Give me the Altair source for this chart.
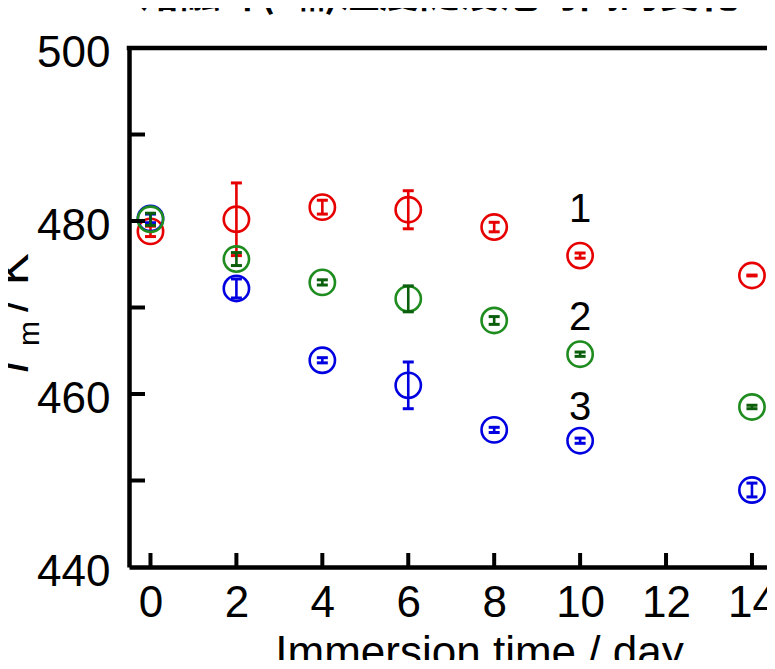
import altair as alt
import pandas as pd

# ---- data ----
days = [0, 2, 4, 6, 8, 10, 14]
tm_1 = [478.8, 480.2, 481.6, 481.3, 479.3, 476.0, 473.7]
err_1 = [0.6, 4.2, 0.8, 2.2, 0.55, 0.3, 0.05]
tm_2 = [480.2, 475.6, 472.9, 471.0, 468.5, 464.6, 458.5]
err_2 = [0.7, 0.75, 0.3, 1.5, 0.45, 0.25, 0.2]
tm_3 = [480.3, 472.2, 463.9, 461.0, 455.85, 454.6, 448.9]
err_3 = [0.5, 1.1, 0.3, 2.7, 0.3, 0.3, 0.8]

series_names = ["1", "2", "3"]
circle_colors = ["#e60000", "#1e8c1e", "#0000e0"]
bar_colors = ["#e60000", "#0b5e0b", "#0000e0"]

label_x = [10, 10, 10]
label_y = [481.3, 468.8, 458.4]
label_text = ["1", "2", "3"]

x_tick_values = [0, 2, 4, 6, 8, 10, 12, 14]
y_tick_values = [450, 460, 470, 480, 490]
y_label_values = [440, 460, 480, 500]

title_text = "熔融峰(Tₘ)温度随浸泡时间的变化"
x_title = "Immersion time / day"

W, H = 638, 519
FONT = "Liberation Sans"

xscale = alt.Scale(domain=[-0.5, 14.35], nice=False, zero=False)
yscale = alt.Scale(domain=[440, 500], nice=False, zero=False)

x_axis = alt.Axis(values=x_tick_values, labelFontSize=44, labelFont=FONT, labelColor="black",
                  labelPadding=14, labelFlush=False, labelOverlap=False,
                  ticks=False, tickSize=0, grid=False, domainWidth=4.5, domainColor="black",
                  title=x_title, titleFontSize=44, titleFont=FONT, titleFontWeight="normal",
                  titleColor="black", titleX=350, titleY=99, titleAlign="center",
                  titleBaseline="alphabetic")
y_axis = alt.Axis(values=y_label_values, labelFontSize=44, labelFont=FONT, labelColor="black",
                  labelPadding=19, labelOffset=5, labelFlush=False, labelOverlap=False,
                  ticks=False, tickSize=0, grid=False, domainWidth=4.5, domainColor="black",
                  title="")


def X(field):
    return alt.X(field, scale=xscale, axis=x_axis)


def Y(field):
    return alt.Y(field, scale=yscale, axis=y_axis)


layers = []
all_series = [(tm_1, err_1), (tm_2, err_2), (tm_3, err_3)]
order = [0, 2, 1]  # red, blue, green drawn in this order
for i in order:
    tm, err = all_series[i]
    df = pd.DataFrame({
        "day": days,
        "tm": tm,
        "lo": [t - e for t, e in zip(tm, err)],
        "hi": [t + e for t, e in zip(tm, err)],
        "series": series_names[i],
    })
    base = alt.Chart(df)
    pts = base.mark_point(shape="circle", filled=False, size=640, strokeWidth=2.6,
                          opacity=1, color=circle_colors[i]).encode(x=X("day:Q"), y=Y("tm:Q"))
    bar = base.mark_rule(strokeWidth=2.6, color=bar_colors[i]).encode(
        x=X("day:Q"), y=Y("lo:Q"), y2="hi:Q")
    cap_lo = base.mark_tick(orient="horizontal", size=11, thickness=3,
                            color=bar_colors[i], opacity=1).encode(x=X("day:Q"), y=Y("lo:Q"))
    cap_hi = base.mark_tick(orient="horizontal", size=11, thickness=3,
                            color=bar_colors[i], opacity=1).encode(x=X("day:Q"), y=Y("hi:Q"))
    layers += [pts, bar, cap_lo, cap_hi]

# inward ticks
xt = alt.Chart(pd.DataFrame({"day": x_tick_values})).mark_rule(strokeWidth=4, color="black").encode(
    x=X("day:Q"), y=alt.value(H - 14), y2=alt.value(H))
yt = alt.Chart(pd.DataFrame({"tm": y_tick_values})).mark_rule(strokeWidth=4, color="black").encode(
    y=Y("tm:Q"), x=alt.value(0), x2=alt.value(16))

# top frame line
top = alt.Chart(pd.DataFrame({"a": [0]})).mark_rule(strokeWidth=4.5, color="black").encode(
    x=alt.value(-2.25), x2=alt.value(W + 5), y=alt.value(0))

# series labels
lab = alt.Chart(pd.DataFrame({"day": label_x, "tm": label_y, "t": label_text})).mark_text(
    fontSize=40, font=FONT, color="black", align="center", baseline="middle").encode(
    x=X("day:Q"), y=Y("tm:Q"), text="t:N")

# y axis title pieces (rotated)
tdf = pd.DataFrame({"a": [0]})
yt_T = alt.Chart(tdf).mark_text(text="T", fontSize=46, font=FONT, fontStyle="italic", angle=270,
                                align="left", baseline="alphabetic", color="black").encode(
    x=alt.value(-101), y=alt.value(333))
yt_m = alt.Chart(tdf).mark_text(text="m", fontSize=30, font=FONT, angle=270,
                                align="left", baseline="alphabetic", color="black").encode(
    x=alt.value(-90), y=alt.value(298))
yt_K = alt.Chart(tdf).mark_text(text="/ K", fontSize=48, font=FONT, angle=270,
                                align="left", baseline="alphabetic", color="black").encode(
    x=alt.value(-101), y=alt.value(264))

# main title (cropped at the top as in the reference)
ttl = alt.Chart(tdf).mark_text(text=title_text, fontSize=40, font="Noto Sans CJK SC",
                               fontWeight="bold", align="left", baseline="alphabetic",
                               color="black").encode(x=alt.value(11), y=alt.value(-41))

chart = alt.layer(*layers, xt, yt, top, lab, yt_T, yt_m, yt_K, ttl).properties(
    width=W, height=H,
    autosize=alt.AutoSizeParams(type="none"),
    padding={"left": 121, "top": 40, "right": 0, "bottom": 93},
).configure_view(stroke=None).configure(background="white")

chart.save("out.html", embed_options={"renderer": "svg", "actions": False})
